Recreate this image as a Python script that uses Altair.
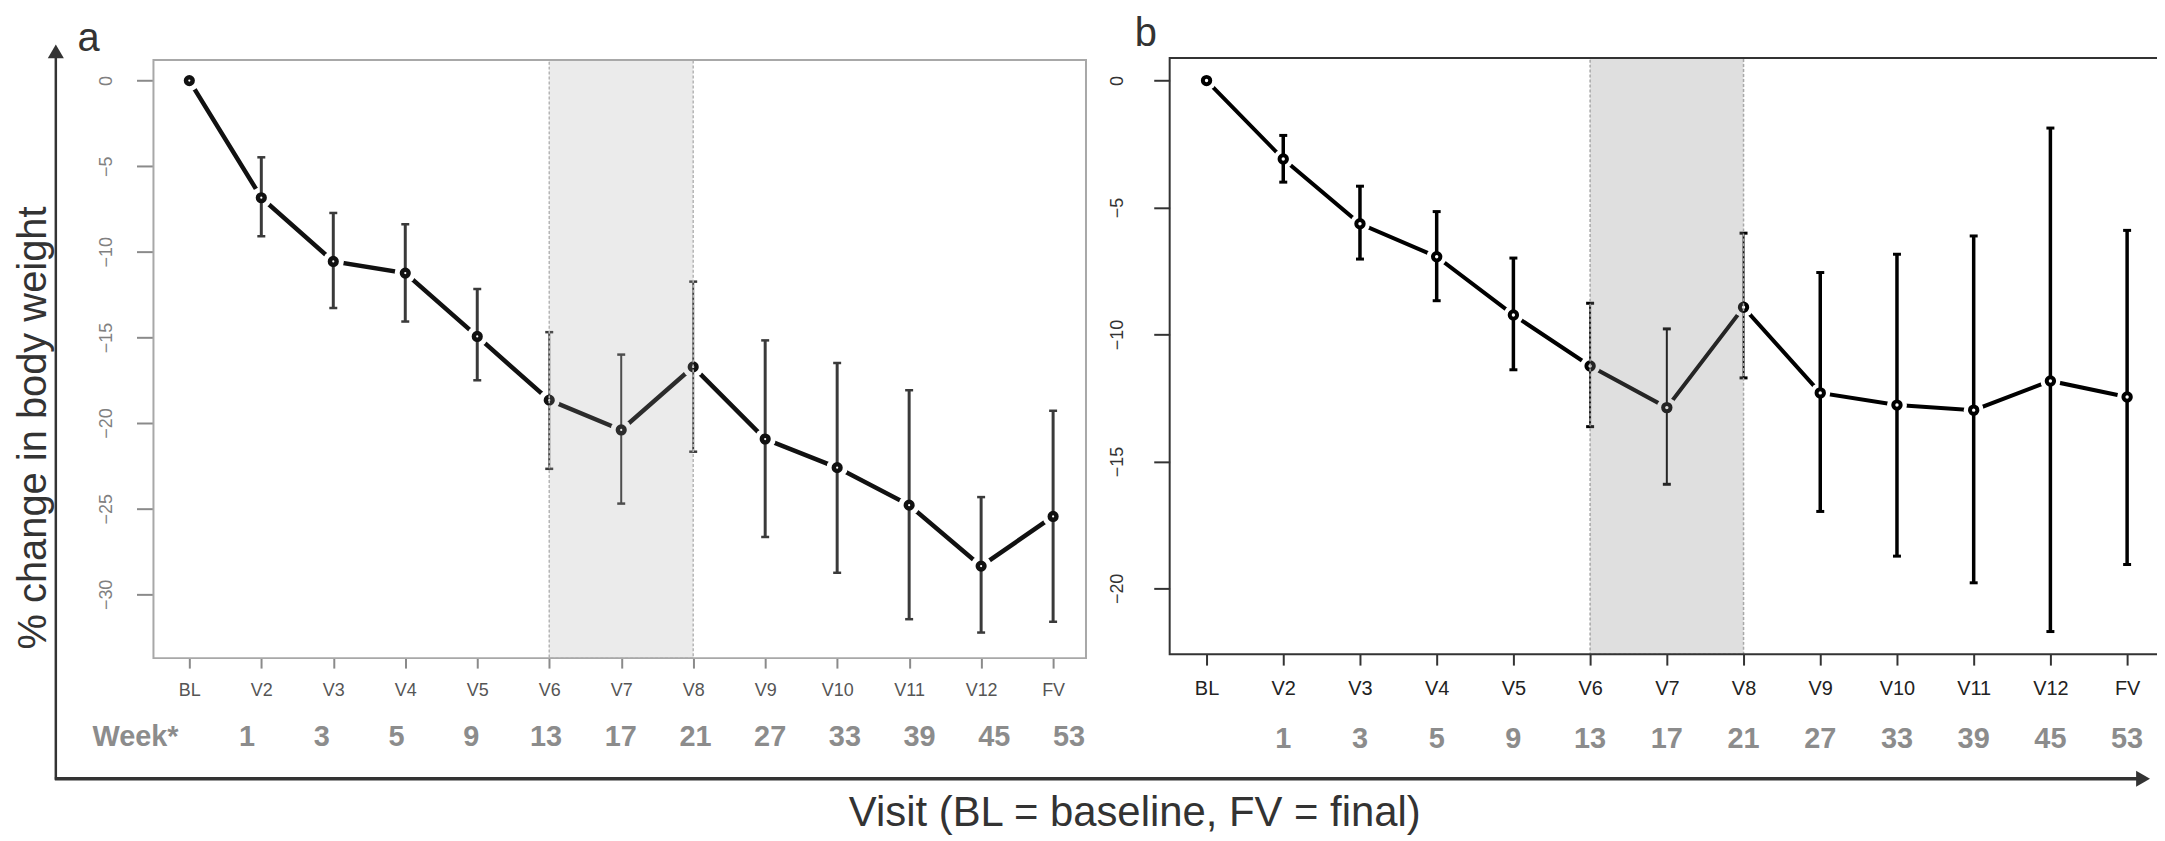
import json
import altair as alt
import pandas as pd

# ---------------- data ----------------
visits = ["BL", "V2", "V3", "V4", "V5", "V6", "V7", "V8", "V9", "V10", "V11", "V12", "FV"]
weeks = ["", "1", "3", "5", "9", "13", "17", "21", "27", "33", "39", "45", "53"]
week_head = "Week*"

a_mean = [0, -6.84, -10.56, -11.24, -14.94, -18.66, -20.40, -16.72, -20.93, -22.60, -24.79, -28.35, -25.45]
a_upper = [None, -4.48, -7.73, -8.39, -12.17, -14.69, -16.00, -11.74, -15.17, -16.49, -18.08, -24.32, -19.28]
a_lower = [None, -9.09, -13.28, -14.07, -17.50, -22.67, -24.70, -21.67, -26.65, -28.74, -31.45, -32.23, -31.60]

b_mean = [0, -3.09, -5.64, -6.94, -9.23, -11.24, -12.88, -8.93, -12.30, -12.78, -12.98, -11.83, -12.46]
b_upper = [None, -2.16, -4.16, -5.16, -6.99, -8.77, -9.78, -6.01, -7.56, -6.84, -6.12, -1.87, -5.90]
b_lower = [None, -4.00, -7.03, -8.67, -11.39, -13.63, -15.90, -11.71, -16.97, -18.73, -19.78, -21.70, -19.06]

y_ticks_a = [0, -5, -10, -15, -20, -25, -30]
y_ticks_b = [0, -5, -10, -15, -20]
shade_span = ["V6", "V8"]

panel_a_label = "a"
panel_b_label = "b"
y_title = "% change in body weight"
x_title = "Visit (BL = baseline, FV = final)"

# ---------------- layout ----------------
W, H = 2157, 830
FONT = "Liberation Sans"
s0, s1 = visits.index(shade_span[0]), visits.index(shade_span[1])
inside = f"datum.idx >= {s0} && datum.idx <= {s1}"
label_expr = json.dumps(visits) + "[datum.value]"
one = alt.Data(values=[{}])


def frame_df(mean, lo, hi):
    return pd.DataFrame({"idx": list(range(len(visits))), "visit": visits, "week": weeks,
                         "mean": mean, "lo": lo, "hi": hi})


shade_df = pd.DataFrame({"s0": [s0], "s1": [s1]})


def panel(df, xr, yr, ydom, yticks, left, top, bottom, st, week_y=None):
    xs = alt.Scale(domain=[0, len(visits) - 1], range=xr, nice=False, zero=False)
    ys = alt.Scale(domain=ydom, range=yr, nice=False, zero=False)
    ax = alt.Axis(orient="bottom", offset=bottom - H, values=list(range(len(visits))),
                  labelExpr=label_expr, tickSize=st["xtick"], tickWidth=2, tickColor=st["tickc"],
                  domain=False, grid=False, title=None, labelFont=FONT,
                  labelFontSize=st["xfs"], labelColor=st["xlc"], labelPadding=14,
                  labelAngle=0, labelFlush=False, labelOverlap=False)
    ay = alt.Axis(orient="left", offset=-left, values=yticks, tickSize=st["ytick"], tickWidth=2,
                  tickColor=st["tickc"], domain=False, grid=False, title=None, labelFont=FONT,
                  labelFontSize=18, labelColor=st["ylc"], labelAngle=270, labelAlign="center",
                  labelBaseline="alphabetic", labelPadding=st["ypad"],
                  labelFlush=False, labelOverlap=False)

    def X(f):
        return alt.X(f, scale=xs, axis=ax)

    def Y(f):
        return alt.Y(f, scale=ys, axis=ay)

    base = alt.Chart(df)
    line = base.mark_line(color=st["linec"], strokeWidth=st["lw"]).encode(x=X("idx:Q"), y=Y("mean:Q"))
    halo = base.mark_circle(color="white", opacity=1, size=st["halo"]).encode(x=X("idx:Q"), y=Y("mean:Q"))
    eb = base.transform_filter("datum.lo != null")
    err = eb.mark_rule(color=st["errc"]).encode(
        x=X("idx:Q"), y=Y("lo:Q"), y2="hi:Q",
        strokeWidth=alt.condition(inside, alt.value(st["ew_in"]), alt.value(st["ew_out"])))
    cap_lo = eb.mark_point(shape="stroke", size=64, strokeWidth=st["capw"], color=st["errc"],
                           opacity=1).encode(x=X("idx:Q"), y=Y("lo:Q"))
    cap_hi = eb.mark_point(shape="stroke", size=64, strokeWidth=st["capw"], color=st["errc"],
                           opacity=1).encode(x=X("idx:Q"), y=Y("hi:Q"))
    pts = base.mark_point(shape="circle", filled=True, fill="white", stroke=st["linec"],
                          strokeWidth=st["pw"], size=st["pt"], opacity=1).encode(x=X("idx:Q"), y=Y("mean:Q"))
    shade = alt.Chart(shade_df).mark_rect(
        fill=st["shadec"], fillOpacity=st["shadeo"], stroke=st["shadestroke"],
        strokeWidth=1.5, strokeDash=[3, 2]).encode(
        x=X("s0:Q"), x2="s1:Q", y=alt.value(top), y2=alt.value(bottom))
    layers = [line, halo, err, cap_lo, cap_hi, pts, shade]
    if week_y is not None:
        wk = base.transform_filter("datum.week != ''").mark_text(
            font=FONT, fontSize=29, fontWeight="bold", color="#8c8c8c",
            align="center", baseline="alphabetic").encode(x=X("idx:Q"), y=alt.value(week_y), text="week:N")
        layers.append(wk)
    return alt.layer(*layers)


style_a = dict(xtick=10, ytick=17, tickc="#8a8a8a", xfs=18, xlc="#555555", ylc="#808080", ypad=25,
               linec="#111111", lw=4.5, halo=450, errc="#3a3a3a", ew_in=2, ew_out=3, capw=2.5,
               pt=45, pw=4.5, shadec="#9a9a9a", shadeo=0.2, shadestroke="#b5b5b5")
style_b = dict(xtick=11, ytick=16, tickc="#333333", xfs=20, xlc="#222222", ylc="#333333", ypad=31,
               linec="#000000", lw=4, halo=400, errc="#000000", ew_in=2, ew_out=3.5, capw=3,
               pt=55, pw=4, shadec="#8a8a8a", shadeo=0.27, shadestroke="#a8a8a8")

dfA = frame_df(a_mean, a_lower, a_upper)
dfB = frame_df(b_mean, b_lower, b_upper)

groupA = panel(dfA, [182, 1049], [587, 71.3], [-30, 0], y_ticks_a, 146, 50.7, 651, style_a)
groupB = panel(dfB, [1203, 2127], [581, 71.3], [-20, 0], y_ticks_b, 1166, 48.7, 647, style_b,
               week_y=741.4)

# week row of panel a (its own spacing in the original)
weekA = alt.Chart(dfA).transform_filter("datum.week != ''").mark_text(
    font=FONT, fontSize=29, fontWeight="bold", color="#8c8c8c", align="center",
    baseline="alphabetic").encode(
    x=alt.X("idx:Q", scale=alt.Scale(domain=[0, 12], range=[165, 1065], nice=False, zero=False),
            axis=None),
    y=alt.value(739.5), text="week:N")
weekA_head = alt.Chart(one).mark_text(
    text=week_head, font=FONT, fontSize=29, fontWeight="bold", color="#8c8c8c",
    align="center", baseline="alphabetic").encode(x=alt.value(128), y=alt.value(739.5))

# frames
frameA = alt.Chart(one).mark_rect(fill=None, stroke="#a8a8a8", strokeWidth=2).encode(
    x=alt.value(146), x2=alt.value(1082), y=alt.value(50.7), y2=alt.value(651))
frameB = alt.Chart(one).mark_rect(fill=None, stroke="#333333", strokeWidth=2).encode(
    x=alt.value(1166), x2=alt.value(2175), y=alt.value(48.7), y2=alt.value(647))

# big L-shaped arrows
v_arrow = alt.Chart(one).mark_rule(color="#333333", strokeWidth=2.5).encode(
    x=alt.value(48), y=alt.value(45), y2=alt.value(773))
v_head = alt.Chart(one).mark_point(shape="triangle-up", filled=True, color="#333333", size=260,
                                   opacity=1).encode(x=alt.value(48), y=alt.value(42))
h_arrow = alt.Chart(one).mark_rule(color="#333333", strokeWidth=3.5).encode(
    x=alt.value(47), x2=alt.value(2140), y=alt.value(772))
h_head = alt.Chart(one).mark_point(shape="triangle-right", filled=True, color="#333333", size=260,
                                   opacity=1).encode(x=alt.value(2143), y=alt.value(772))

# texts
t_a = alt.Chart(one).mark_text(text=panel_a_label, font=FONT, fontSize=40, color="#333333",
                               align="center", baseline="alphabetic").encode(
    x=alt.value(81), y=alt.value(42))
t_b = alt.Chart(one).mark_text(text=panel_b_label, font=FONT, fontSize=40, color="#333333",
                               align="center", baseline="alphabetic").encode(
    x=alt.value(1142), y=alt.value(37))
t_y = alt.Chart(one).mark_text(text=y_title, font=FONT, fontSize=40, color="#333333", angle=270,
                               align="center", baseline="middle").encode(
    x=alt.value(26), y=alt.value(420))
t_x = alt.Chart(one).mark_text(text=x_title, font=FONT, fontSize=42, color="#333333",
                               align="center", baseline="alphabetic").encode(
    x=alt.value(1131), y=alt.value(820))

chart = alt.layer(
    groupA, weekA, groupB, weekA_head, frameA, frameB,
    v_arrow, v_head, h_arrow, h_head, t_a, t_b, t_y, t_x
).resolve_scale(x="independent", y="independent").properties(
    width=W, height=H, autosize=alt.AutoSizeParams(type="none"), padding=0
).configure_view(stroke=None)

chart.save("out.html", embed_options={"renderer": "svg", "actions": False})
